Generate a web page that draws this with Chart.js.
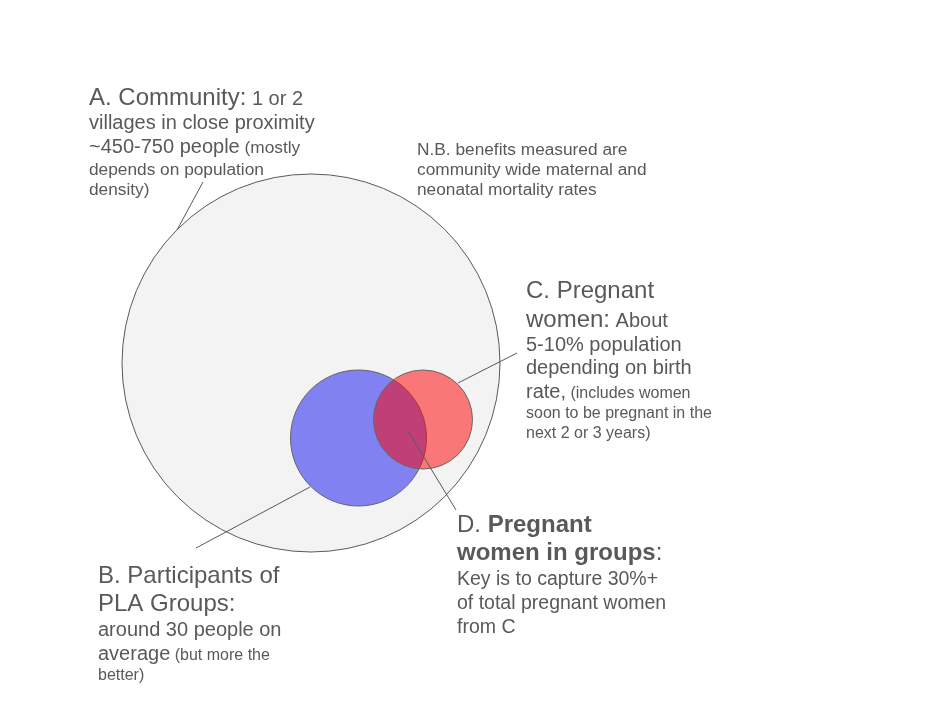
<!DOCTYPE html>
<html>
<head>
<meta charset="utf-8">
<script src="https://cdn.jsdelivr.net/npm/chart.js@4/dist/chart.umd.min.js"></script>
<style>
html,body{margin:0;padding:0;background:#ffffff;}
#wrap{width:944px;height:717px;position:relative;}
canvas{display:block;}
</style>
</head>
<body>
<div id="wrap"><canvas id="venn" width="944" height="717"></canvas></div>
<script>
// ---- data (diagram units: 944 x 717 frame) ----
const setNames = ['A. Community', 'B. Participants of PLA Groups', 'C. Pregnant women'];
const centerX = [311, 358.5, 423];
const centerY = [363, 438, 419.5];
const radius  = [189, 68, 49.5];

// leader lines: [fromX, fromY, toX, toY]
const leaderA = [203, 182, 177, 230];
const leaderB = [196, 548, 310, 487];
const leaderC = [517, 353, 458, 383];
const leaderD = [408, 431, 456, 510];

const frameX = [0, 944];
const frameY = [0, 717];

// ---- styles ----
const FONT = '"Liberation Sans", Arial, Helvetica, sans-serif';
const TEXT_COLOR = '#595959';
const LINE_COLOR = '#595959';
const fills = ['#f3f3f3', 'rgba(0,0,240,0.47)', 'rgba(255,0,0,0.51)'];
const strokes = ['#595959', '#666666', '#666666'];

// annotation text blocks: x, and lines with baseline y and segments [text, size, bold]
const notes = [
  { x: 89, lines: [
    { y: 105, segs: [['A. Community:', 24], [' 1 or 2', 20]] },
    { y: 129, segs: [['villages in close proximity', 20]] },
    { y: 153, segs: [['~450-750 people', 20], [' (mostly', 17.3]] },
    { y: 175, segs: [['depends on population', 17.3]] },
    { y: 195, segs: [['density)', 17.3]] }
  ]},
  { x: 417, lines: [
    { y: 155, segs: [['N.B. benefits measured are', 17.3]] },
    { y: 175, segs: [['community wide maternal and', 17.3]] },
    { y: 195, segs: [['neonatal mortality rates', 17.3]] }
  ]},
  { x: 526, lines: [
    { y: 298, segs: [['C. Pregnant', 24]] },
    { y: 327, segs: [['women:', 24], [' About', 20]] },
    { y: 351, segs: [['5-10% population', 20]] },
    { y: 374, segs: [['depending on birth', 20]] },
    { y: 398, segs: [['rate,', 20], [' (includes women', 16]] },
    { y: 418, segs: [['soon to be pregnant in the', 16]] },
    { y: 438, segs: [['next 2 or 3 years)', 16]] }
  ]},
  { x: 457, lines: [
    { y: 532, segs: [['D. ', 24], ['Pregnant', 24, true]] },
    { y: 560, segs: [['women in groups', 24, true], [':', 24]] },
    { y: 585, segs: [['Key is to capture 30%+', 19.5]] },
    { y: 609, segs: [['of total pregnant women', 19.5]] },
    { y: 633, segs: [['from C', 19.5]] }
  ]},
  { x: 98, lines: [
    { y: 583, segs: [['B. Participants of', 24]] },
    { y: 611, segs: [['PLA Groups:', 24]] },
    { y: 636, segs: [['around 30 people on', 20]] },
    { y: 660, segs: [['average', 20], [' (but more the', 16]] },
    { y: 680, segs: [['better)', 16]] }
  ]}
];

const points = setNames.map((n, i) => ({ x: centerX[i], y: centerY[i], r: radius[i], name: n }));

const annotationPlugin = {
  id: 'vennAnnotations',
  afterDatasetsDraw(chart) {
    const ctx = chart.ctx;
    const sx = chart.scales.x, sy = chart.scales.y;
    ctx.save();
    // leader lines
    ctx.strokeStyle = LINE_COLOR;
    ctx.lineWidth = 1;
    [leaderA, leaderB, leaderC, leaderD].forEach(l => {
      ctx.beginPath();
      ctx.moveTo(sx.getPixelForValue(l[0]), sy.getPixelForValue(l[1]));
      ctx.lineTo(sx.getPixelForValue(l[2]), sy.getPixelForValue(l[3]));
      ctx.stroke();
    });
    // text
    ctx.fillStyle = TEXT_COLOR;
    ctx.textBaseline = 'alphabetic';
    ctx.textAlign = 'left';
    notes.forEach(b => {
      b.lines.forEach(line => {
        let px = sx.getPixelForValue(b.x);
        const py = sy.getPixelForValue(line.y);
        line.segs.forEach(s => {
          ctx.font = (s[2] ? 'bold ' : '') + s[1] + 'px ' + FONT;
          ctx.fillText(s[0], px, py);
          px += ctx.measureText(s[0]).width;
        });
      });
    });
    ctx.restore();
  }
};

new Chart(document.getElementById('venn'), {
  type: 'bubble',
  data: {
    datasets: [{
      label: 'Sets',
      data: points,
      backgroundColor: fills,
      borderColor: strokes,
      borderWidth: 1,
      clip: false,
      radius: (c) => {
        const s = c.chart.scales.x;
        const d = c.raw;
        if (!s || !d) return 0;
        return Math.abs(s.getPixelForValue(d.x + d.r) - s.getPixelForValue(d.x));
      }
    }]
  },
  options: {
    responsive: false,
    animation: false,
    devicePixelRatio: 1,
    events: [],
    layout: { padding: 0, autoPadding: false },
    plugins: { legend: { display: false }, tooltip: { enabled: false }, title: { display: false } },
    scales: {
      x: { type: 'linear', min: frameX[0], max: frameX[1], display: false },
      y: { type: 'linear', min: frameY[0], max: frameY[1], reverse: true, display: false }
    }
  },
  plugins: [annotationPlugin]
});
</script>
</body>
</html>
